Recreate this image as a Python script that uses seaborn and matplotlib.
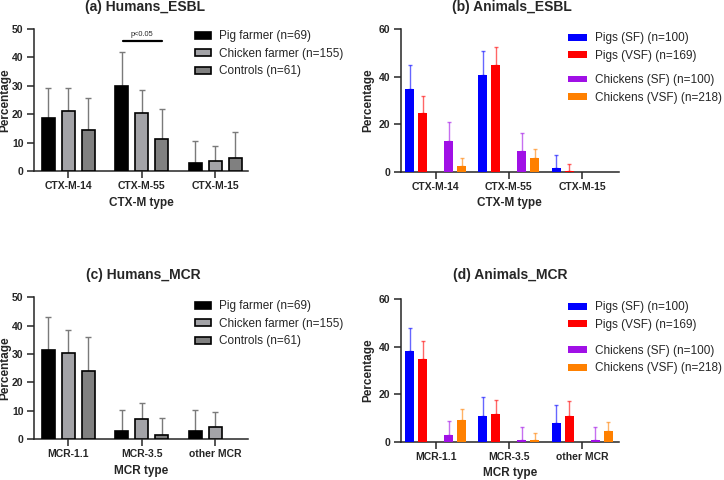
import numpy as np
import pandas as pd
import matplotlib
matplotlib.use("Agg")
import matplotlib.pyplot as plt
from matplotlib.patches import Patch
import matplotlib.colors as mcolors
import seaborn as sns

# ---------------- data ----------------
esbl_genes = ["CTX-M-14", "CTX-M-55", "CTX-M-15"]
mcr_genes = ["MCR-1.1", "MCR-3.5", "other MCR"]

human_groups = ["Pig farmer (n=69)", "Chicken farmer (n=155)", "Controls (n=61)"]
animal_groups = ["Pigs (SF) (n=100)", "Pigs (VSF) (n=169)",
                 "Chickens (SF) (n=100)", "Chickens (VSF) (n=218)"]

# (a) Humans ESBL: values and upper CI
h_esbl_pig = [18.6, 30.0, 2.8]
h_esbl_pig_up = [29.4, 41.8, 10.5]
h_esbl_chk = [21.3, 20.4, 3.6]
h_esbl_chk_up = [29.1, 28.4, 8.9]
h_esbl_ctl = [14.5, 11.2, 4.7]
h_esbl_ctl_up = [25.6, 22.0, 13.9]

# (b) Animals ESBL
a_esbl_pig_sf = [34.8, 40.9, 1.5]
a_esbl_pig_sf_up = [44.8, 50.7, 7.2]
a_esbl_pig_vsf = [24.7, 44.9, 0.4]
a_esbl_pig_vsf_up = [31.8, 52.5, 3.4]
a_esbl_chk_sf = [12.8, 8.8, 0.0]
a_esbl_chk_sf_up = [20.9, 16.2, np.nan]
a_esbl_chk_vsf = [2.5, 5.7, 0.0]
a_esbl_chk_vsf_up = [5.8, 9.6, np.nan]

# (c) Humans MCR
h_mcr_pig = [31.3, 2.7, 2.7]
h_mcr_pig_up = [42.9, 10.4, 10.4]
h_mcr_chk = [30.5, 7.1, 4.4]
h_mcr_chk_up = [38.4, 12.6, 9.4]
h_mcr_ctl = [24.0, 1.5, np.nan]
h_mcr_ctl_up = [36.1, 7.5, np.nan]

# (d) Animals MCR
a_mcr_pig_sf = [38.0, 11.0, 7.9]
a_mcr_pig_sf_up = [48.0, 18.8, 15.3]
a_mcr_pig_vsf = [35.0, 11.8, 11.0]
a_mcr_pig_vsf_up = [42.6, 17.7, 17.0]
a_mcr_chk_sf = [2.9, 0.8, 0.8]
a_mcr_chk_sf_up = [8.7, 6.0, 6.0]
a_mcr_chk_vsf = [9.0, 0.8, 4.5]
a_mcr_chk_vsf_up = [13.6, 3.5, 8.2]

human_colors = ["#000000", "#a3a3a7", "#808080"]
animal_colors = ["#0000ff", "#ff0000", "#a010e6", "#ff8000"]
BLANK = " "

FONT = ["Liberation Sans", "DejaVu Sans"]


def make_df(genes, groups, vals, ups):
    rows = []
    for g, v, u in zip(groups, vals, ups):
        for gene, vv, uu in zip(genes, v, u):
            rows.append({"gene": gene, "group": g, "pct": vv, "upper": uu})
    return pd.DataFrame(rows)


sns.set_style("ticks")
plt.rcParams["font.family"] = FONT
plt.rcParams["axes.linewidth"] = 1.1

fig = plt.figure(figsize=(7.24, 4.8), dpi=100)
W, H = 724.0, 480.0


def ax_px(left, right, bottom, top):
    return fig.add_axes([left / W, 1 - bottom / H, (right - left) / W, (bottom - top) / H])


def draw_panel(ax, df, genes, hue_order, palette, width, gap, edge, ecolors, ealpha,
               capsize, ylim, yticks, xlim, xlabel, ylab_x):
    sns.barplot(data=df, x="gene", y="pct", hue="group", hue_order=hue_order,
                order=genes, palette=palette, width=width, gap=gap, errorbar=None,
                edgecolor=edge if edge else None, linewidth=1.2 if edge else 0,
                saturation=1, legend=False, ax=ax, zorder=3)
    # map patches to data rows via colour and category position
    col2grp = {mcolors.to_hex(palette[g]): g for g in hue_order if g != BLANK}
    for p in ax.patches:
        fc = mcolors.to_hex(p.get_facecolor()[:3])
        if fc not in col2grp:
            continue
        g = col2grp[fc]
        xc = p.get_x() + p.get_width() / 2
        if not np.isfinite(xc):
            continue
        gi = int(round(xc))
        row = df[(df["group"] == g) & (df["gene"] == genes[gi])].iloc[0]
        if np.isnan(row["upper"]) or np.isnan(row["pct"]):
            continue
        ecol = ecolors[g]
        ax.errorbar([xc], [row["pct"]], yerr=[[0], [row["upper"] - row["pct"]]],
                    fmt="none", ecolor=ecol, alpha=ealpha, elinewidth=1.0,
                    capsize=capsize, capthick=1.0, zorder=2)
    ax.set_ylim(*ylim)
    ax.set_yticks(yticks)
    ax.set_xlim(*xlim)
    sns.despine(ax=ax)
    ax.tick_params(axis="both", length=5, width=1.1, pad=2.5, labelsize=7.5)
    for lab in ax.get_xticklabels() + ax.get_yticklabels():
        lab.set_fontweight("bold")
    ax.set_xlabel(xlabel, fontsize=8.5, fontweight="bold")
    ax.set_ylabel("Percentage", fontsize=8.5, fontweight="bold")
    ax.xaxis.set_label_coords(0.5, -0.18)
    ax.yaxis.set_label_coords(ylab_x, 0.5)


def human_legend(fig, x, ytop):
    handles = [Patch(facecolor=c, edgecolor="black", linewidth=1.2) for c in human_colors]
    fig.legend(handles, human_groups, loc="upper left",
               bbox_to_anchor=(x / W, 1 - ytop / H), bbox_transform=fig.transFigure,
               frameon=False, fontsize=8.5, borderpad=0, borderaxespad=0,
               handlelength=1.33, handleheight=0.5, handletextpad=0.72,
               labelspacing=0.47)


def animal_legend(fig, x, ytop1, ytop2):
    for idx, yt in ((0, ytop1), (2, ytop2)):
        handles = [Patch(facecolor=c, edgecolor="none") for c in animal_colors[idx:idx + 2]]
        fig.legend(handles, animal_groups[idx:idx + 2], loc="upper left",
                   bbox_to_anchor=(x / W, 1 - yt / H), bbox_transform=fig.transFigure,
                   frameon=False, fontsize=8.5, borderpad=0, borderaxespad=0,
                   handlelength=1.6, handleheight=0.5, handletextpad=0.65,
                   labelspacing=0.47)


human_pal = dict(zip(human_groups, human_colors))
human_err = {g: "#7a7a7a" for g in human_groups}
animal_pal = dict(zip(animal_groups, animal_colors))
animal_pal[BLANK] = "#ffffff"
animal_err = dict(zip(animal_groups, animal_colors))
animal_order = animal_groups[:2] + [BLANK] + animal_groups[2:]

# (a)
ax_a = ax_px(34, 248.3, 171, 29)
df_a = make_df(esbl_genes, human_groups, [h_esbl_pig, h_esbl_chk, h_esbl_ctl],
               [h_esbl_pig_up, h_esbl_chk_up, h_esbl_ctl_up])
draw_panel(ax_a, df_a, esbl_genes, human_groups, human_pal, 0.816, 0.37, "black",
           human_err, 1.0, 2.0, (0, 50), [0, 10, 20, 30, 40, 50], (-0.467, 2.45),
           "CTX-M type", -0.105)
# significance bar
ax_a.plot([0.74, 1.27], [45.9, 45.9], color="black", lw=1.6, clip_on=False)
ax_a.text(1.0, 47.0, "p<0.05", ha="center", va="bottom", fontsize=5.3)

# (b)
ax_b = ax_px(401, 618.7, 171.7, 29.2)
df_b = make_df(esbl_genes, animal_groups,
               [a_esbl_pig_sf, a_esbl_pig_vsf, a_esbl_chk_sf, a_esbl_chk_vsf],
               [a_esbl_pig_sf_up, a_esbl_pig_vsf_up, a_esbl_chk_sf_up, a_esbl_chk_vsf_up])
draw_panel(ax_b, df_b, esbl_genes, animal_order, animal_pal, 0.887, 0.3, None,
           animal_err, 0.6, 1.6, (0, 60), [0, 20, 40, 60], (-0.473, 2.5),
           "CTX-M type", -0.125)

# (c)
ax_c = ax_px(34, 248.3, 439, 297.3)
df_c = make_df(mcr_genes, human_groups, [h_mcr_pig, h_mcr_chk, h_mcr_ctl],
               [h_mcr_pig_up, h_mcr_chk_up, h_mcr_ctl_up])
draw_panel(ax_c, df_c, mcr_genes, human_groups, human_pal, 0.816, 0.37, "black",
           human_err, 1.0, 2.0, (0, 50), [0, 10, 20, 30, 40, 50], (-0.467, 2.45),
           "MCR type", -0.105)

# (d)
ax_d = ax_px(401, 618.7, 441.7, 299.2)
df_d = make_df(mcr_genes, animal_groups,
               [a_mcr_pig_sf, a_mcr_pig_vsf, a_mcr_chk_sf, a_mcr_chk_vsf],
               [a_mcr_pig_sf_up, a_mcr_pig_vsf_up, a_mcr_chk_sf_up, a_mcr_chk_vsf_up])
draw_panel(ax_d, df_d, mcr_genes, animal_order, animal_pal, 0.887, 0.3, None,
           animal_err, 0.6, 1.6, (0, 60), [0, 20, 40, 60], (-0.473, 2.5),
           "MCR type", -0.125)

# legends
human_legend(fig, 195, 30.4)
animal_legend(fig, 568, 32.4, 74.1)
human_legend(fig, 195, 300.4)
animal_legend(fig, 568, 301.4, 344.8)

# titles
for txt, x, y in (("(a) Humans_ESBL", 145, 7), ("(b) Animals_ESBL", 512, 7),
                  ("(c) Humans_MCR", 143.3, 275), ("(d) Animals_MCR", 510.7, 275)):
    fig.text(x / W, 1 - y / H, txt, ha="center", va="center", fontsize=10,
             fontweight="bold")

fig.savefig("out.png", dpi=100)
